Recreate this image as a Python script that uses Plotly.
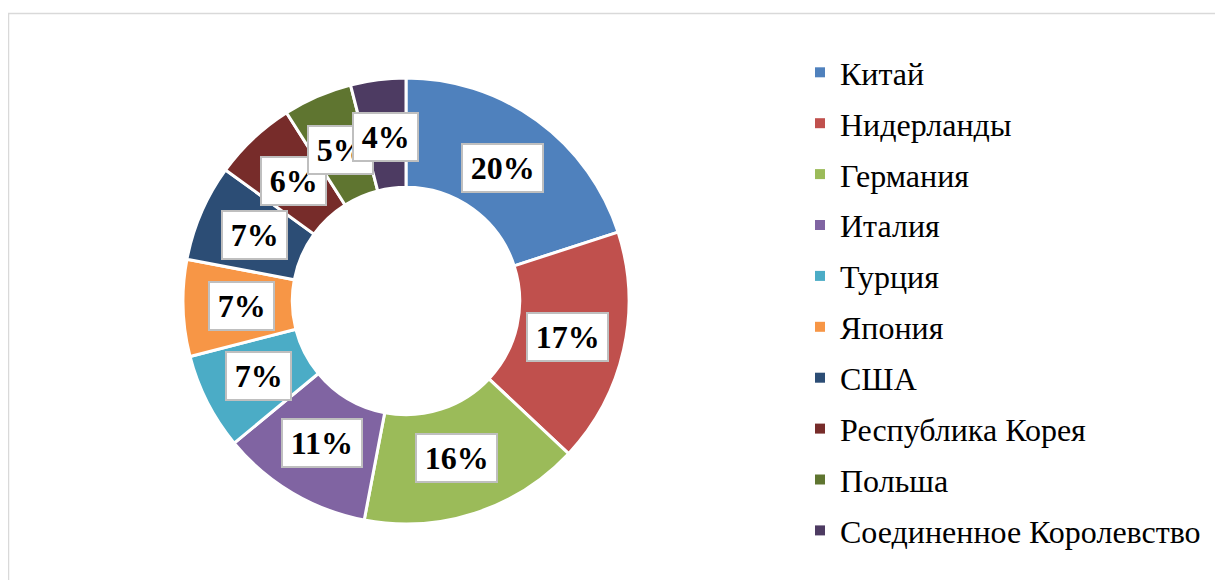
import math
import plotly.graph_objects as go

countries = ["Китай", "Нидерланды", "Германия", "Италия", "Турция", "Япония",
             "США", "Республика Корея", "Польша", "Соединенное Королевство"]
shares = [20, 17, 16, 11, 7, 7, 7, 6, 5, 4]
colors = ["#4F81BD", "#C0504D", "#9BBB59", "#8064A2", "#4BACC6", "#F79646",
          "#2C4D75", "#772C2A", "#5F7530", "#4D3B62"]

FONT = "Times New Roman, Liberation Serif, serif"
W, H = 1223, 580
OFF = 8  # page body margin
cx_px, cy_px, R_px = 406 - OFF, 301 - OFF, 223
hole = 0.51
dom_x = [(cx_px - R_px) / W, (cx_px + R_px) / W]
dom_y = [(H - cy_px - R_px) / H, (H - cy_px + R_px) / H]

fig = go.Figure()
fig.add_trace(go.Pie(
    labels=countries, values=shares, sort=False, direction="clockwise",
    rotation=0, hole=hole, textinfo="none", showlegend=False,
    marker=dict(colors=colors, line=dict(color="white", width=3)),
    domain=dict(x=dom_x, y=dom_y),
))

for name, col in zip(countries, colors):
    fig.add_trace(go.Scatter(
        x=[None], y=[None], mode="markers", name=name, legendgroup=name,
        marker=dict(symbol="square", size=10, color=col),
    ))

total = sum(shares)
r_lab = 165
cum = 0
annotations = []
for v in shares:
    mid = (cum + v / 2) / total * 2 * math.pi
    cum += v
    px = cx_px + r_lab * math.sin(mid)
    py = cy_px - r_lab * math.cos(mid)
    annotations.append(dict(
        x=px / W, y=1 - py / H, xref="paper", yref="paper",
        xanchor="center", yanchor="middle",
        text=f"\u200a<b>{round(v / total * 100)}%</b>\u200a", showarrow=False,
        font=dict(family=FONT, size=32, color="black"),
        bgcolor="white", bordercolor="#BFBFBF", borderwidth=2, borderpad=5,
    ))

fig.update_layout(
    width=W, height=H, margin=dict(l=0, r=0, t=0, b=0),
    paper_bgcolor="white", plot_bgcolor="white",
    xaxis=dict(visible=False), yaxis=dict(visible=False),
    annotations=annotations,
    legend=dict(x=(800 - OFF) / W, xanchor="left", y=1 - (45 - OFF) / H, yanchor="top",
                traceorder="grouped", tracegroupgap=6.3,
                font=dict(family=FONT, size=32, color="black"),
                bgcolor="rgba(0,0,0,0)"),
    shapes=[dict(type="rect", xref="paper", yref="paper",
                 x0=0.5 / W, x1=1.02, y0=-0.05, y1=1 - 5.5 / H,
                 line=dict(color="#D9D9D9", width=1.5), layer="below")],
)

fig.write_html("out.html")
